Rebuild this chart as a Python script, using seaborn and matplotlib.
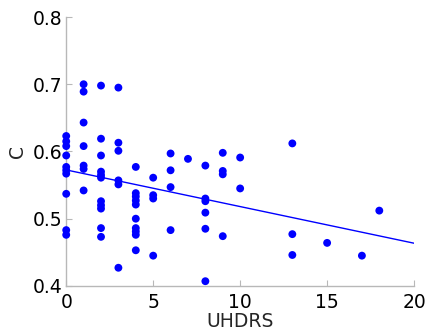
import numpy as np
import pandas as pd
import matplotlib
matplotlib.use("Agg")
import matplotlib.pyplot as plt
import seaborn as sns

uhdrs = ([0]*10 + [1]*7 + [2]*11 + [3]*6 + [4]*10 + [5]*4 + [6]*4 + [7] +
         [8]*6 + [9]*4 + [10]*2 + [13]*3 + [15] + [17] + [18])
c_vals = [0.623, 0.615, 0.608, 0.594, 0.577, 0.572, 0.567, 0.537, 0.483, 0.476,
          0.700, 0.689, 0.643, 0.608, 0.579, 0.574, 0.542,
          0.698, 0.619, 0.594, 0.570, 0.565, 0.561, 0.526, 0.520, 0.515, 0.486, 0.473,
          0.695, 0.613, 0.601, 0.557, 0.551, 0.427,
          0.577, 0.538, 0.533, 0.527, 0.521, 0.500, 0.486, 0.481, 0.476, 0.453,
          0.561, 0.535, 0.530, 0.445,
          0.597, 0.572, 0.547, 0.483,
          0.589,
          0.579, 0.530, 0.526, 0.509, 0.485, 0.407,
          0.598, 0.571, 0.566, 0.474,
          0.591, 0.545,
          0.612, 0.477, 0.446,
          0.464,
          0.445,
          0.512]
xticks = [0, 5, 10, 15, 20]
yticks = [0.4, 0.5, 0.6, 0.7, 0.8]

df = pd.DataFrame({"UHDRS": uhdrs, "C": c_vals})

sns.set_style("white")
plt.rcParams['font.family'] = ['DejaVu Sans']

fig = plt.figure(figsize=(4.30, 3.34), dpi=100)
ax = fig.add_axes([0.154, 0.144, 0.809, 0.805])
ax.set_xlim(0, 20)
ax.set_ylim(0.4, 0.8)
sns.regplot(data=df, x="UHDRS", y="C", ax=ax, ci=None, truncate=False,
            scatter_kws=dict(s=32, color=(0, 0, 1), edgecolors='none', alpha=1,
                             clip_on=False, zorder=3),
            line_kws=dict(color=(0, 0, 1), lw=1.0))
ax.set_xlim(0, 20)
ax.set_ylim(0.4, 0.8)
ax.set_xticks(xticks)
ax.set_yticks(yticks)
ax.set_xticklabels([str(t) for t in xticks])
ax.set_yticklabels([f"{t:.1f}" for t in yticks])
for s in ['top', 'right']:
    ax.spines[s].set_visible(False)
for s in ['left', 'bottom']:
    ax.spines[s].set_color('#b8b8b8')
    ax.spines[s].set_linewidth(1.0)
ax.tick_params(direction='in', length=4, color='#b8b8b8', labelsize=13.5,
               labelcolor='black', bottom=True, left=True)
ax.tick_params(axis='x', pad=5)
ax.tick_params(axis='y', pad=3)
ax.set_xlabel("UHDRS", fontsize=13.5, labelpad=0)
ax.set_ylabel("C", fontsize=13.5, labelpad=4)
fig.savefig("out.png", dpi=100)
